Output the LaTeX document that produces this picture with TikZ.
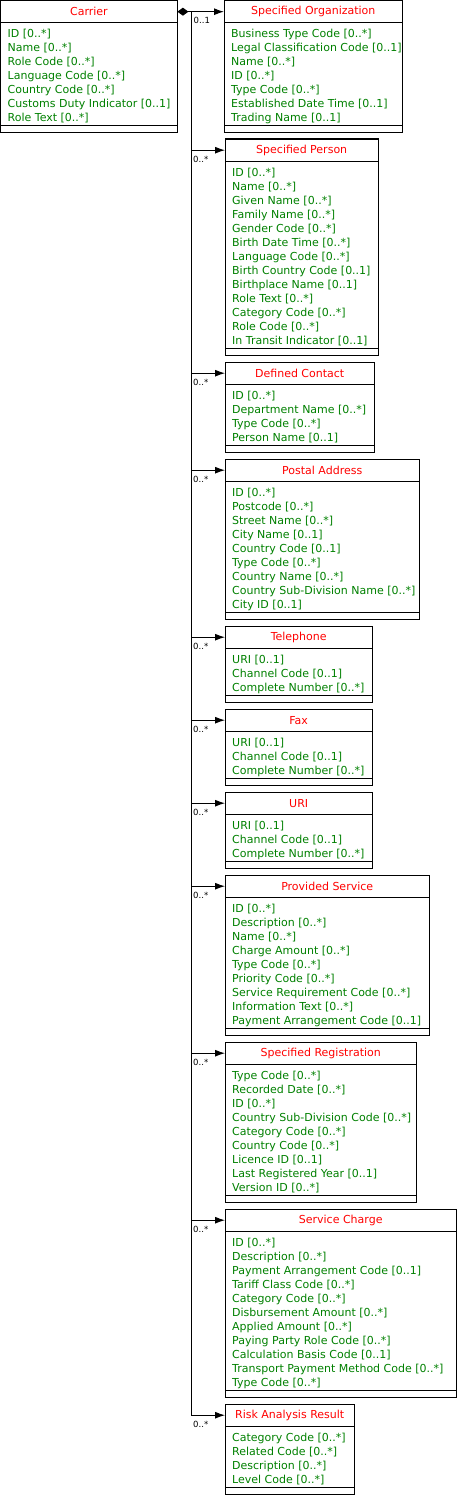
\documentclass[tikz,border=0pt]{standalone}
\usepackage{fontspec}
\setmainfont{DejaVu Sans}
\usetikzlibrary{arrows.meta}
\definecolor{titlered}{RGB}{255,0,0}
\definecolor{attrgreen}{RGB}{0,128,0}
\tikzset{
  boxline/.style={draw=black, line width=1pt},
  hdr/.style={inner sep=0pt, minimum height=22pt, text=titlered, font=\fontsize{11}{13}\selectfont},
  attr/.style={anchor=base west, inner sep=0pt, text=attrgreen, font=\fontsize{11}{13}\selectfont},
  mult/.style={anchor=north west, inner sep=0pt, text=black, font=\fontsize{8.5}{9}\selectfont},
  assoc/.style={line width=1pt, -{Latex[length=10pt,width=7pt]}},
  comp/.style={line width=1pt, {Diamond[length=11pt,width=8pt]}-{Latex[length=10pt,width=7pt]}},
}
% name, x, top, width, title, n, attributes
\newcommand\umlbox[7]{%
  \node[hdr, minimum width=#4pt, anchor=north west] (#1) at (#2,#3) {#5};
  \draw[boxline] (#2,#3) rectangle ({#2+#4},{#3+34+14*#6});
  \draw[boxline] (#2,{#3+22}) -- ({#2+#4},{#3+22});
  \draw[boxline] (#2,{#3+27+14*#6}) -- ({#2+#4},{#3+27+14*#6});
  \foreach \a [count=\i from 0] in {#7} \node[attr] at ({#2+7},{#3+37+14*\i}) {\a};
}
\begin{document}
\begin{tikzpicture}[x=1pt,y=-1pt]
\useasboundingbox (0,0) rectangle (458,1509);

\umlbox{carrier}{0.5}{0.5}{176.5}{Carrier}{7}{ID [0..*],Name [0..*],Role Code [0..*],Language Code [0..*],Country Code [0..*],Customs Duty Indicator [0..1],Role Text [0..*]}

\umlbox{org}{224}{0.5}{178}{Specified Organization}{7}{Business Type Code [0..*],Legal Classification Code [0..1],Name [0..*],ID [0..*],Type Code [0..*],Established Date Time [0..1],Trading Name [0..1]}

\umlbox{person}{225}{139}{153}{Specified Person}{13}{ID [0..*],Name [0..*],Given Name [0..*],Family Name [0..*],Gender Code [0..*],Birth Date Time [0..*],Language Code [0..*],Birth Country Code [0..1],Birthplace Name [0..1],Role Text [0..*],Category Code [0..*],Role Code [0..*],In Transit Indicator [0..1]}

\umlbox{contact}{225}{362}{149}{Defined Contact}{4}{ID [0..*],Department Name [0..*],Type Code [0..*],Person Name [0..1]}

\umlbox{postal}{225}{459}{194}{Postal Address}{9}{ID [0..*],Postcode [0..*],Street Name [0..*],City Name [0..1],Country Code [0..1],Type Code [0..*],Country Name [0..*],Country Sub-Division Name [0..*],City ID [0..1]}

\umlbox{telephone}{225}{626}{147}{Telephone}{3}{URI [0..1],Channel Code [0..1],Complete Number [0..*]}

\umlbox{fax}{225}{709}{147}{Fax}{3}{URI [0..1],Channel Code [0..1],Complete Number [0..*]}

\umlbox{uri}{225}{792}{147}{URI}{3}{URI [0..1],Channel Code [0..1],Complete Number [0..*]}

\umlbox{provided}{225}{875}{204}{Provided Service}{9}{ID [0..*],Description [0..*],Name [0..*],Charge Amount [0..*],Type Code [0..*],Priority Code [0..*],Service Requirement Code [0..*],Information Text [0..*],Payment Arrangement Code [0..1]}

\umlbox{registration}{225}{1042}{191}{Specified Registration}{9}{Type Code [0..*],Recorded Date [0..*],ID [0..*],Country Sub-Division Code [0..*],Category Code [0..*],Country Code [0..*],Licence ID [0..1],Last Registered Year [0..1],Version ID [0..*]}

\umlbox{charge}{225}{1209}{231}{Service Charge}{11}{ID [0..*],Description [0..*],Payment Arrangement Code [0..1],Tariff Class Code [0..*],Category Code [0..*],Disbursement Amount [0..*],Applied Amount [0..*],Paying Party Role Code [0..*],Calculation Basis Code [0..1],Transport Payment Method Code [0..*],Type Code [0..*]}

\umlbox{risk}{225}{1404}{129}{Risk Analysis Result}{4}{Category Code [0..*],Related Code [0..*],Description [0..*],Level Code [0..*]}

% connectors
\coordinate (bus) at (191,11.5);
\draw[comp] (carrier.east) -- (org.west);
\path (bus) ++(2.5,5.5) node[mult] {0..1};
\foreach \t in {person,contact,postal,telephone,fax,uri,provided,registration,charge,risk}{
  \draw[assoc] (bus) |- (\t.west);
  \path (bus |- \t.west) ++(2,5.5) node[mult] {0..*};
}
\end{tikzpicture}
\end{document}
